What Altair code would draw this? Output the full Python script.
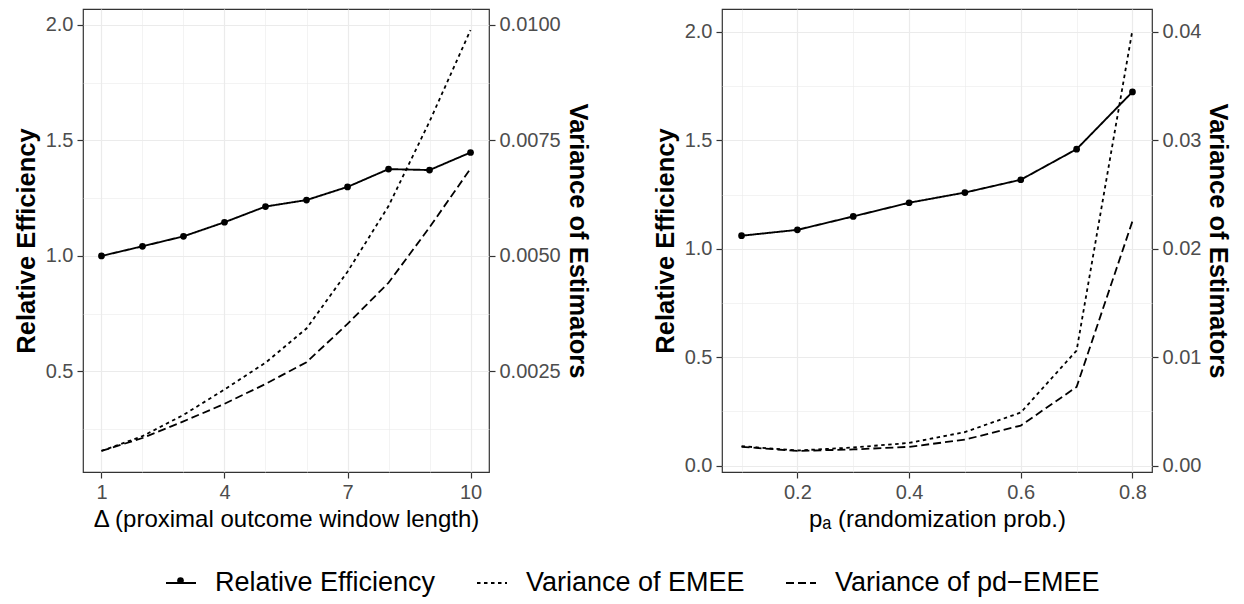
import json
import altair as alt
import pandas as pd

FONT = "Liberation Sans"
SERIES = ["Relative Efficiency", "Variance of EMEE", "Variance of pd−EMEE"]

# ---- Panel 1: window length Delta ----
delta = [1, 2, 3, 4, 5, 6, 7, 8, 9, 10]
re_delta = [1.000, 1.042, 1.085, 1.146, 1.214, 1.242, 1.299, 1.376, 1.372, 1.448]
var_emee_delta = [0.00078, 0.00110, 0.00156, 0.00211, 0.00269, 0.00343, 0.00466, 0.00608, 0.00791, 0.00989]
var_pd_delta = [0.00078, 0.00106, 0.00142, 0.00180, 0.00223, 0.00270, 0.00353, 0.00442, 0.00562, 0.00689]
delta_ticks = [1, 2, 3, 4, 5, 6, 7, 8, 9, 10]
delta_major = [1, 4, 7, 10]
re_ticks_1 = [0.25, 0.5, 0.75, 1.0, 1.25, 1.5, 1.75, 2.0]
re_major_1 = [0.5, 1.0, 1.5, 2.0]
var_ticks_1 = [0.0025, 0.005, 0.0075, 0.01]

# ---- Panel 2: randomization probability ----
pa = [0.1, 0.2, 0.3, 0.4, 0.5, 0.6, 0.7, 0.8]
re_pa = [1.060, 1.087, 1.149, 1.212, 1.259, 1.318, 1.459, 1.723]
var_emee_pa = [0.00180, 0.00140, 0.00168, 0.00210, 0.00310, 0.00490, 0.01062, 0.04016]
var_pd_pa = [0.00174, 0.00136, 0.00150, 0.00174, 0.00240, 0.00370, 0.00726, 0.02254]
pa_ticks = [0.1, 0.2, 0.3, 0.4, 0.5, 0.6, 0.7, 0.8]
pa_major = [0.2, 0.4, 0.6, 0.8]
re_ticks_2 = [0.0, 0.25, 0.5, 0.75, 1.0, 1.25, 1.5, 1.75, 2.0]
re_major_2 = [0.0, 0.5, 1.0, 1.5, 2.0]
var_ticks_2 = [0.0, 0.01, 0.02, 0.03, 0.04]

H = 463
LEG_X = 82
LEG_Y = 558

dash_scale = alt.Scale(domain=SERIES, range=[[1, 0], [3.5, 3.5], [8, 4]])
dash_legend = alt.Legend(
    title=None, orient="none", legendX=LEG_X, legendY=LEG_Y, direction="horizontal",
    symbolType="stroke", symbolSize=900, symbolStrokeWidth=1.9, symbolStrokeColor="black",
    labelFont=FONT, labelFontSize=27, labelColor="black", labelOffset=18,
    columnPadding=37, labelLimit=600, padding=0,
)
dot_legend = alt.Legend(
    title=None, orient="none", legendX=LEG_X + 2, legendY=LEG_Y, direction="horizontal",
    symbolSize=45, symbolFillColor="black", symbolStrokeColor="black", symbolStrokeWidth=0,
    labelExpr="''", labelFontSize=27, padding=0,
)


def in_list(vals):
    return "indexof(%s, datum.value) >= 0" % json.dumps(vals)


def grid_axis(values, major, fmt, title, **kw):
    test = in_list(major)
    return alt.Axis(
        values=values, format=fmt, labelExpr=f"{test} ? datum.label : ''", title=title,
        grid=True, gridColor="#EBEBEB",
        gridWidth={"condition": {"test": test, "value": 1.2}, "value": 0.6},
        tickOpacity={"condition": {"test": test, "value": 1}, "value": 0},
        labelOverlap=False, labelFlush=False, **kw,
    )


def panel(xs, re, ve, vp, ratio, x_ticks, x_major, x_fmt, x_title, y_ticks, y_major,
          var_ticks, var_fmt, width):
    n = len(xs)
    re_df = pd.DataFrame({"x": xs, "y": re, "series": SERIES[0]})
    var_df = pd.DataFrame({"x": xs + xs, "y": ve + vp,
                           "series": [SERIES[1]] * n + [SERIES[2]] * n})
    allv = re + [v * ratio for v in ve + vp]
    lo, hi = min(allv), max(allv)
    pad = 0.05 * (hi - lo)
    ydom = [lo - pad, hi + pad]
    vdom = [ydom[0] / ratio, ydom[1] / ratio]
    xpad = 0.05 * (max(xs) - min(xs))
    xdom = [min(xs) - xpad, max(xs) + xpad]

    xenc = alt.X("x:Q", scale=alt.Scale(domain=xdom, nice=False, zero=False),
                 axis=grid_axis(x_ticks, x_major, x_fmt, x_title, orient="bottom",
                                titleFontWeight="normal", titleFontSize=24, titlePadding=5))
    yenc = alt.Y("y:Q", scale=alt.Scale(domain=ydom, nice=False, zero=False),
                 axis=grid_axis(y_ticks, y_major, ".1f", "Relative Efficiency", orient="left",
                                titleFontWeight="bold", titleFontSize=25.5, titlePadding=6))
    dash = alt.StrokeDash("series:N", scale=dash_scale, legend=dash_legend)

    var_lines = alt.Chart(var_df).mark_line(color="black", strokeWidth=1.8).encode(
        x=xenc,
        y=alt.Y("y:Q", scale=alt.Scale(domain=vdom, nice=False, zero=False),
                axis=alt.Axis(orient="right", values=var_ticks, format=var_fmt, grid=False,
                              title="Variance of Estimators", titleAngle=90,
                              titleFontWeight="bold", titleFontSize=25.5, titlePadding=4)),
        strokeDash=dash)
    re_line = alt.Chart(re_df).mark_line(color="black", strokeWidth=1.9).encode(
        x=xenc, y=yenc, strokeDash=dash)
    re_pts = alt.Chart(re_df).mark_point(filled=True, color="black", size=45, opacity=1).encode(
        x=xenc, y=yenc,
        shape=alt.Shape("series:N", scale=alt.Scale(domain=[SERIES[0]], range=["circle"]),
                        legend=dot_legend))
    return (alt.layer(alt.layer(re_line, re_pts), var_lines)
            .resolve_scale(y="independent")
            .properties(width=width, height=H))


p1 = panel(delta, re_delta, var_emee_delta, var_pd_delta, 200, delta_ticks, delta_major, "d",
           "Δ (proximal outcome window length)", re_ticks_1, re_major_1, var_ticks_1, ".4f", 406)
p2 = panel(pa, re_pa, var_emee_pa, var_pd_pa, 50, pa_ticks, pa_major, ".1f",
           "pₐ (randomization prob.)", re_ticks_2, re_major_2, var_ticks_2, ".2f", 430)

chart = (
    alt.hconcat(p1, p2, spacing=233, bounds="flush")
    .properties(padding={"left": 5, "top": 0, "right": 5, "bottom": 5})
    .configure_view(stroke="#333333", strokeWidth=1.2)
    .configure_axis(labelFont=FONT, labelFontSize=20, labelColor="#4D4D4D",
                    titleFont=FONT, titleColor="black", tickColor="#333333",
                    tickWidth=1.2, tickSize=6, labelPadding=4, domain=False)
)

chart.save("out.html", embed_options={"renderer": "svg", "actions": False})
